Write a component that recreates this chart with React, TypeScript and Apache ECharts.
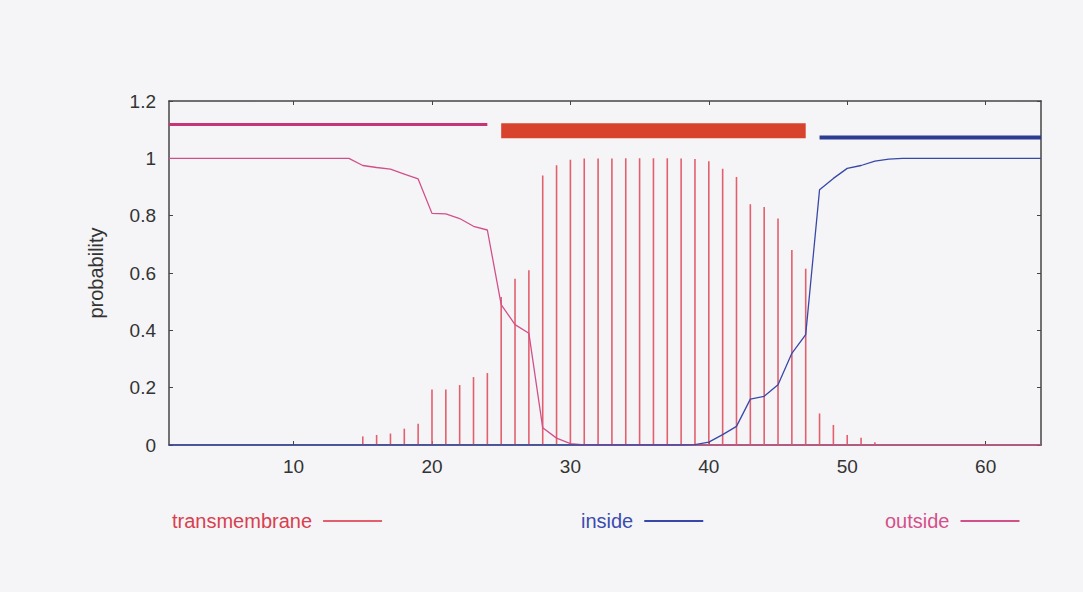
import React, { useEffect, useRef } from "react";
import * as echarts from "echarts";

const positions: number[] = Array.from({ length: 64 }, (_, i) => i + 1);

// transmembrane probability (impulses)
const tmValues: number[] = [
  0, 0, 0, 0, 0, 0, 0, 0, 0, 0,
  0, 0, 0, 0, 0.03, 0.035, 0.04, 0.057, 0.074, 0.194,
  0.194, 0.209, 0.237, 0.251, 0.516, 0.58, 0.61, 0.94, 0.976, 0.995,
  0.999, 0.999, 0.999, 1.0, 1.0, 1.0, 1.0, 0.999, 0.998, 0.99,
  0.964, 0.935, 0.84, 0.83, 0.79, 0.68, 0.615, 0.11, 0.07, 0.035,
  0.025, 0.01, 0, 0, 0, 0, 0, 0, 0, 0,
  0, 0, 0, 0,
];

// inside probability
const insideValues: number[] = [
  0, 0, 0, 0, 0, 0, 0, 0, 0, 0,
  0, 0, 0, 0, 0, 0, 0, 0, 0, 0,
  0, 0, 0, 0, 0, 0, 0, 0, 0, 0,
  0, 0, 0, 0, 0, 0, 0, 0, 0.001, 0.01,
  0.036, 0.065, 0.16, 0.17, 0.21, 0.32, 0.385, 0.89, 0.93, 0.965,
  0.975, 0.99, 0.997, 1, 1, 1, 1, 1, 1, 1,
  1, 1, 1, 1,
];

// outside probability
const outsideValues: number[] = [
  1, 1, 1, 1, 1, 1, 1, 1, 1, 1,
  1, 1, 1, 1, 0.975, 0.968, 0.962, 0.945, 0.928, 0.808,
  0.806, 0.79, 0.763, 0.75, 0.49, 0.42, 0.39, 0.06, 0.024, 0.005,
  0, 0, 0, 0, 0, 0, 0, 0, 0, 0,
  0, 0, 0, 0, 0, 0, 0, 0, 0, 0,
  0, 0, 0, 0, 0, 0, 0, 0, 0, 0,
  0, 0, 0, 0,
];

// predicted topology regions
const regionNames: string[] = ["outside", "TMhelix", "inside"];
const regionStart: number[] = [1, 25, 48];
const regionEnd: number[] = [24, 47, 64];
const regionLevel: number[] = [1.118, 1.096, 1.073];

const xTickValues: number[] = [10, 20, 30, 40, 50, 60];

const TM_COLOR = "#e2606e";
const IN_COLOR = "#3848a8";
const OUT_COLOR = "#d2508a";
const regionColors = ["#c83478", "#d8432e", "#2a3c94"];
const regionWidths = [3, 15, 4];

export default function App() {
  const ref = useRef<HTMLDivElement>(null);

  useEffect(() => {
    if (!ref.current) return;
    const chart = echarts.init(ref.current, null, { renderer: "svg" });
    const font = "'Liberation Sans', Arial, sans-serif";

    const regionSeries = regionNames.map((n, i) => ({
      name: "region-" + n,
      type: "line",
      xAxisIndex: 0,
      yAxisIndex: 0,
      symbol: "none",
      silent: true,
      lineStyle: { color: regionColors[i], width: regionWidths[i], cap: "butt" },
      data: [
        [regionStart[i], regionLevel[i]],
        [regionEnd[i], regionLevel[i]],
      ],
      z: 5,
    }));

    const legendBase = {
      top: 506,
      align: "right",
      itemWidth: 59,
      itemHeight: 2,
      icon: "rect",
      textStyle: { fontSize: 20, fontFamily: font, padding: [0, 6, 0, 0] },
    };

    const option: any = {
      animation: false,
      backgroundColor: "#f5f5f7",
      textStyle: { fontFamily: font },
      grid: { left: 169, right: 42, top: 101, bottom: 147, containLabel: false },
      legend: [
        {
          ...legendBase,
          left: 167,
          data: [{ name: "transmembrane", textStyle: { color: "#d8404e" } }],
        },
        {
          ...legendBase,
          left: 576,
          data: [{ name: "inside", textStyle: { color: "#3a4cae" } }],
        },
        {
          ...legendBase,
          left: 880,
          data: [{ name: "outside", textStyle: { color: "#d4508a" } }],
        },
      ],
      xAxis: [
        {
          type: "value",
          min: 1,
          max: 64,
          position: "bottom",
          axisLine: { show: true, onZero: false, lineStyle: { color: "#444", width: 1.5 } },
          axisTick: { show: true, inside: true, length: 4, customValues: xTickValues, lineStyle: { color: "#444" } },
          axisLabel: { customValues: xTickValues, color: "#333", fontSize: 19, margin: 12, fontFamily: font },
          splitLine: { show: false },
        },
        {
          type: "value",
          min: 1,
          max: 64,
          position: "top",
          axisLine: { show: true, onZero: false, lineStyle: { color: "#444", width: 1.5 } },
          axisTick: { show: true, inside: true, length: 4, customValues: xTickValues, lineStyle: { color: "#444" } },
          axisLabel: { show: false },
          splitLine: { show: false },
        },
      ],
      yAxis: [
        {
          type: "value",
          min: 0,
          max: 1.2,
          interval: 0.2,
          position: "left",
          name: "probability",
          nameLocation: "middle",
          nameGap: 63,
          nameRotate: 90,
          nameTextStyle: { color: "#333", fontSize: 20, fontFamily: font },
          axisLine: { show: true, onZero: false, lineStyle: { color: "#444", width: 1.5 } },
          axisTick: { show: true, inside: true, length: 4, lineStyle: { color: "#444" } },
          axisLabel: { color: "#333", fontSize: 19, margin: 13, fontFamily: font },
          splitLine: { show: false },
        },
        {
          type: "value",
          min: 0,
          max: 1.2,
          interval: 0.2,
          position: "right",
          axisLine: { show: true, onZero: false, lineStyle: { color: "#444", width: 1.5 } },
          axisTick: { show: true, inside: true, length: 4, lineStyle: { color: "#444" } },
          axisLabel: { show: false },
          splitLine: { show: false },
        },
      ],
      series: [
        {
          name: "transmembrane",
          type: "bar",
          xAxisIndex: 0,
          yAxisIndex: 0,
          barWidth: 1.6,
          itemStyle: { color: TM_COLOR },
          data: positions.map((p, i) => [p, tmValues[i]]),
          z: 2,
        },
        {
          name: "outside",
          type: "line",
          xAxisIndex: 0,
          yAxisIndex: 0,
          symbol: "none",
          itemStyle: { color: OUT_COLOR },
          lineStyle: { color: OUT_COLOR, width: 1.3 },
          data: positions.map((p, i) => [p, outsideValues[i]]),
          z: 3,
        },
        {
          name: "inside",
          type: "line",
          xAxisIndex: 0,
          yAxisIndex: 0,
          symbol: "none",
          itemStyle: { color: IN_COLOR },
          lineStyle: { color: IN_COLOR, width: 1.3 },
          data: positions.map((p, i) => [p, insideValues[i]]),
          z: 4,
        },
        ...regionSeries,
      ],
    };

    chart.setOption(option);
    return () => chart.dispose();
  }, []);

  return (
    <div
      ref={ref}
      style={{ position: "fixed", left: 0, top: 0, width: 1083, height: 592 }}
    />
  );
}
